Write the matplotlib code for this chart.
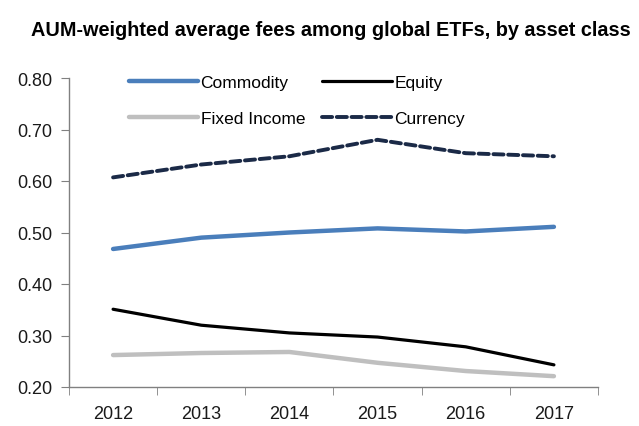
import matplotlib
matplotlib.use("Agg")
import matplotlib.pyplot as plt
from matplotlib.ticker import FixedLocator

plt.rcParams['font.family'] = ['Liberation Sans', 'DejaVu Sans']

years = ["2012", "2013", "2014", "2015", "2016", "2017"]
commodity = [0.468, 0.490, 0.500, 0.508, 0.502, 0.511]
equity = [0.351, 0.320, 0.305, 0.297, 0.278, 0.243]
fixed_income = [0.262, 0.266, 0.268, 0.247, 0.231, 0.221]
currency = [0.607, 0.632, 0.648, 0.680, 0.654, 0.648]
yticks = [0.20, 0.30, 0.40, 0.50, 0.60, 0.70, 0.80]

fig = plt.figure(figsize=(6.39, 4.27), dpi=100)
ax = fig.add_axes([69/639, 1-388/427, (598-69)/639, (388-79)/427])

x = list(range(len(years)))
h_com, = ax.plot(x, commodity, color="#4A7EBB", lw=3.2, label="Commodity", solid_capstyle="round")
h_eq, = ax.plot(x, equity, color="#000000", lw=2.3, label="Equity", solid_capstyle="round")
h_fi, = ax.plot(x, fixed_income, color="#BFBFBF", lw=3.2, label="Fixed Income", solid_capstyle="round")
h_cu, = ax.plot(x, currency, color="#1B2A47", lw=2.8, ls=(0, (2.6, 1.2)), label="Currency", dash_capstyle="round")

ax.set_xlim(-0.5, 5.5)
ax.set_ylim(0.20, 0.80)
ax.set_yticks(yticks)
ax.set_yticklabels([f"{v:.2f}" for v in yticks])
ax.set_xticks(x)
ax.set_xticklabels(years)
ax.xaxis.set_minor_locator(FixedLocator([i - 0.5 for i in range(len(years) + 1)]))

for s in ["top", "right"]:
    ax.spines[s].set_visible(False)
for s in ["left", "bottom"]:
    ax.spines[s].set_color("#808080")
    ax.spines[s].set_linewidth(1.0)

ax.tick_params(axis="y", direction="out", length=6, color="#808080", labelsize=13, pad=6, labelcolor="#1a1a1a")
ax.tick_params(axis="x", which="major", length=0, labelsize=13, pad=13, labelcolor="#1a1a1a")
ax.tick_params(axis="x", which="minor", direction="out", length=6, color="#808080")

ax.legend(handles=[h_com, h_fi, h_eq, h_cu], loc="upper left", bbox_to_anchor=(0.083, 1.062),
          ncol=2, frameon=False, fontsize=12.5, handlelength=4.0, handletextpad=0.15,
          columnspacing=1.0, labelspacing=1.2)

fig.text(331/639, 1 - 30/427, "AUM-weighted average fees among global ETFs, by asset class",
         ha="center", va="center", fontsize=14.3, fontweight="bold")

fig.savefig("out.png", dpi=100)
